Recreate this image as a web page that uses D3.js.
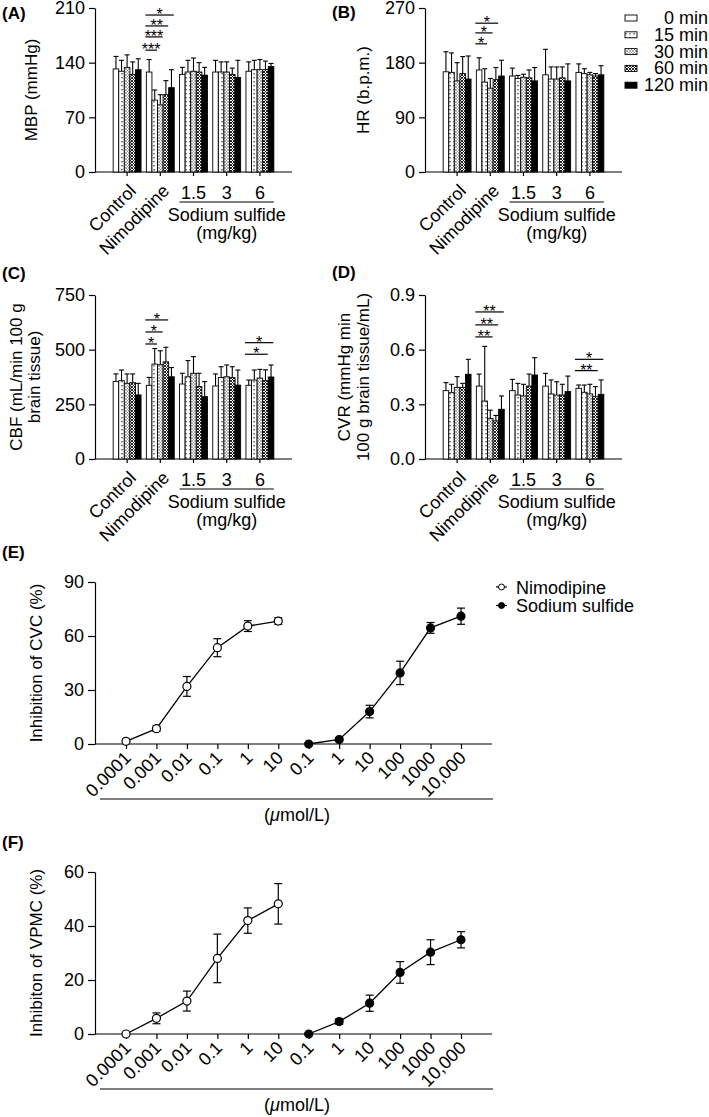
<!DOCTYPE html>
<html><head><meta charset="utf-8">
<script src="https://cdn.jsdelivr.net/npm/d3@7"></script>
<style>
body{margin:0;background:#fff}
svg{display:block}
text{font-family:"Liberation Sans",Arial,Helvetica,sans-serif;fill:#000}
</style>
</head><body>
<svg id="c" width="709" height="1117"></svg>
<script>
// ---------- data ----------
const groups = ["Control", "Nimodipine", "1.5", "3", "6"];
const times = ["0 min", "15 min", "30 min", "60 min", "120 min"];

const mbpMean = [[132,129,134,125,131],[128,92,86,99,108],[125,128,129,128,124],[128,128,128,125,121],[129,131,131,131,135]];
const mbpErr  = [[16,14,16,16,14],[16,13,13,18,23],[9,15,17,12,10],[15,13,13,8,22],[12,12,13,11,4]];
const mbpTicks = [0,70,140,210];
const mbpSig = [{g:1,to:1,label:"***",v:156},{g:1,to:2,label:"***",v:173},{g:1,to:3,label:"**",v:187},{g:1,to:4,label:"*",v:201}];

const hrMean = [[165,164,150,162,153],[168,148,138,152,158],[158,154,156,155,150],[160,153,153,155,150],[164,162,160,158,160]];
const hrErr  = [[33,32,30,28,38],[20,22,16,20,26],[13,5,5,13,22],[42,20,20,18,28],[14,8,4,4,15]];
const hrTicks = [0,90,180,270];
const hrSig = [{g:1,to:1,label:"*",v:211},{g:1,to:2,label:"*",v:229},{g:1,to:3,label:"*",v:245}];

const cbfMean = [[354,358,346,349,293],[337,434,431,444,376],[343,376,392,331,285],[334,373,376,372,338],[337,361,370,358,375]];
const cbfErr  = [[35,49,43,40,53],[36,71,64,67,42],[49,74,76,61,69],[55,49,54,50,69],[24,46,40,50,55]];
const cbfTicks = [0,250,500,750];
const cbfSig = [{g:1,to:1,label:"*",v:526},{g:1,to:2,label:"*",v:581},{g:1,to:3,label:"*",v:636},{g:4,to:3,label:"*",v:479},{g:4,to:4,label:"*",v:532}];

const cvrMean = [[0.375,0.364,0.393,0.393,0.465],[0.40,0.318,0.223,0.209,0.273],[0.375,0.351,0.346,0.40,0.461],[0.40,0.357,0.351,0.351,0.37],[0.388,0.366,0.357,0.342,0.355]];
const cvrErr  = [[0.044,0.046,0.059,0.022,0.082],[0.066,0.30,0.045,0.03,0.073],[0.062,0.064,0.064,0.066,0.095],[0.07,0.077,0.073,0.059,0.085],[0.018,0.04,0.053,0.055,0.079]];
const cvrTicks = [0,0.3,0.6,0.9];
const cvrSig = [{g:1,to:2,label:"**",v:0.670},{g:1,to:3,label:"**",v:0.736},{g:1,to:4,label:"**",v:0.807},{g:4,to:3,label:"**",v:0.485},{g:4,to:4,label:"*",v:0.547}];

const doseLabels = ["0.0001","0.001","0.01","0.1","1","10","0.1","1","10","100","1000","10,000"];
const nimoCVC = [1.5, 8.5, 32, 53.5, 65.5, 68.3];
const nimoCVCerr = [1, 1.5, 5.5, 5, 3, 1.8];
const sodCVC = [0, 2.5, 18, 39.5, 64.5, 71];
const sodCVCerr = [0.5, 1, 3.5, 6.5, 3, 4.5];
const cvcTicks = [0,30,60,90];

const nimoVPMC = [0, 5.8, 12.2, 28, 42, 48.2];
const nimoVPMCerr = [0.3, 2, 3.7, 9, 4.7, 7.5];
const sodVPMC = [0, 4.6, 11.4, 22.8, 30.3, 34.9];
const sodVPMCerr = [0.3, 1, 3, 4, 4.6, 3];
const vpmcTicks = [0,20,40,60];

const lineSeries = ["Nimodipine", "Sodium sulfide"];

// ---------- drawing ----------
const svg = d3.select("#c");
const FS = 18;
const defs = svg.append("defs");
function pat(id, size, draw){
  const p = defs.append("pattern").attr("id",id).attr("patternUnits","userSpaceOnUse")
    .attr("width",size).attr("height",size);
  p.append("rect").attr("width",size).attr("height",size).attr("fill","#fff");
  draw(p);
}
pat("p15",4,p=>p.append("rect").attr("x",1.5).attr("y",1).attr("width",1).attr("height",1.4).attr("fill","#000"));
pat("p30",3,p=>p.append("path").attr("d","M0,0L3,3M3,0L0,3").attr("stroke","#777").attr("stroke-width",0.6));
pat("p60",3,p=>p.append("path").attr("d","M0,0L3,3M3,0L0,3").attr("stroke","#111").attr("stroke-width",0.9));
const fills = ["#fff","url(#p15)","url(#p30)","url(#p60)","#000"];

function styleAxis(g){
  g.selectAll("path,line").attr("stroke","#000").attr("stroke-width",1.2);
  g.selectAll("text").attr("font-size",FS).attr("font-family",'"Liberation Sans",Arial,sans-serif').attr("fill","#000");
}

function barPanel(cfg){
  const g = svg.append("g");
  const y = d3.scaleLinear().domain([0, cfg.ticks[cfg.ticks.length-1]]).range([cfg.bottom, cfg.top]);
  const x = d3.scaleBand().domain(groups).range([cfg.axisX+15.5, cfg.axisX+181.5]).paddingInner(0.16).paddingOuter(0.08);
  const bw = x.bandwidth()/times.length;
  // y axis
  const ya = g.append("g").attr("transform",`translate(${cfg.axisX},0)`)
    .call(d3.axisLeft(y).tickValues(cfg.ticks).tickFormat(cfg.fmt).tickSize(6).tickPadding(4).tickSizeOuter(0));
  styleAxis(ya);
  // x axis
  const xa = g.append("g").attr("transform",`translate(0,${cfg.bottom})`)
    .call(d3.axisBottom(x).tickSize(4).tickFormat(""));
  xa.select(".domain").remove();
  styleAxis(xa);
  g.append("line").attr("x1",cfg.axisX).attr("x2",cfg.axisX+197).attr("y1",cfg.bottom).attr("y2",cfg.bottom)
    .attr("stroke","#000").attr("stroke-width",1.2);
  // bars
  groups.forEach((gr,gi)=>{
    times.forEach((t,ti)=>{
      const x0 = x(gr)+ti*bw, m = cfg.mean[gi][ti], e = cfg.err[gi][ti];
      g.append("line").attr("x1",x0+bw/2).attr("x2",x0+bw/2).attr("y1",y(m)).attr("y2",y(m+e)).attr("stroke","#000").attr("stroke-width",1.1);
      g.append("line").attr("x1",x0+0.3).attr("x2",x0+bw-0.3).attr("y1",y(m+e)).attr("y2",y(m+e)).attr("stroke","#000").attr("stroke-width",1.1);
      g.append("rect").attr("x",x0).attr("y",y(m)).attr("width",bw).attr("height",y(0)-y(m))
        .attr("fill",fills[ti]).attr("stroke","#000").attr("stroke-width",0.9);
    });
  });
  // significance
  cfg.sig.forEach(s=>{
    const x1 = x(groups[s.g])-1, x2 = x(groups[s.g])+(s.to+1)*bw-0.5, yy = y(s.v);
    g.append("line").attr("x1",x1).attr("x2",x2).attr("y1",yy).attr("y2",yy).attr("stroke","#000").attr("stroke-width",1.2);
    g.append("text").attr("x",(x1+x2)/2).attr("y",yy+5).attr("text-anchor","middle").attr("font-size",16).text(s.label);
  });
  // x labels
  [0,1].forEach(i=>{
    const cx = x(groups[i])+x.bandwidth()/2;
    g.append("text").attr("transform",`translate(${cx+10},${cfg.bottom+20}) rotate(-45)`)
      .attr("text-anchor","end").attr("font-size",FS).text(groups[i]);
  });
  [2,3,4].forEach(i=>{
    const cx = x(groups[i])+x.bandwidth()/2;
    g.append("text").attr("x",cx).attr("y",cfg.bottom+27).attr("text-anchor","middle").attr("font-size",FS).text(groups[i]);
  });
  const ux1 = x(groups[2]), ux2 = x(groups[4])+x.bandwidth();
  g.append("line").attr("x1",ux1).attr("x2",ux2).attr("y1",cfg.bottom+30).attr("y2",cfg.bottom+30).attr("stroke","#000").attr("stroke-width",1.2);
  g.append("text").attr("x",(ux1+ux2)/2).attr("y",cfg.bottom+49).attr("text-anchor","middle").attr("font-size",FS).text("Sodium sulfide");
  g.append("text").attr("x",(ux1+ux2)/2).attr("y",cfg.bottom+67).attr("text-anchor","middle").attr("font-size",FS).text("(mg/kg)");
  // y title
  const my = (cfg.top+cfg.bottom)/2;
  cfg.title.forEach((t,i)=>{
    g.append("text").attr("transform",`translate(${cfg.titleX[i]},${my}) rotate(-90)`)
      .attr("text-anchor","middle").attr("font-size",17).text(t);
  });
  g.append("text").attr("x",cfg.labelX).attr("y",cfg.labelY).attr("font-size",17).attr("font-weight","bold").text(cfg.label);
}

barPanel({axisX:95, top:8, bottom:172, ticks:mbpTicks, fmt:d3.format("d"), mean:mbpMean, err:mbpErr, sig:mbpSig,
  title:["MBP (mmHg)"], titleX:[37], label:"(A)", labelX:2, labelY:19});
barPanel({axisX:425, top:8, bottom:172, ticks:hrTicks, fmt:d3.format("d"), mean:hrMean, err:hrErr, sig:hrSig,
  title:["HR (b.p.m.)"], titleX:[369], label:"(B)", labelX:332, labelY:18});
barPanel({axisX:95, top:295, bottom:459, ticks:cbfTicks, fmt:d3.format("d"), mean:cbfMean, err:cbfErr, sig:cbfSig,
  title:["CBF (mL/min 100 g","brain tissue)"], titleX:[22,40], label:"(C)", labelX:2, labelY:279});
barPanel({axisX:425, top:295, bottom:459, ticks:cvrTicks, fmt:d3.format(".1f"), mean:cvrMean, err:cvrErr, sig:cvrSig,
  title:["CVR (mmHg min","100 g brain tissue/mL)"], titleX:[350,369], label:"(D)", labelX:332, labelY:278});

// bar legend
times.forEach((t,i)=>{
  const ly = 18 + i*16.8;
  svg.append("rect").attr("x",625).attr("y",ly-3).attr("width",12).attr("height",6)
    .attr("fill",fills[i]).attr("stroke","#000").attr("stroke-width",0.9);
  svg.append("text").attr("x",708).attr("y",ly+6).attr("text-anchor","end").attr("font-size",FS).text(t);
});

// ---------- line panels ----------
function linePanel(cfg){
  const g = svg.append("g");
  const y = d3.scaleLinear().domain([0, cfg.ticks[cfg.ticks.length-1]]).range([cfg.bottom, cfg.top]);
  const x = d3.scalePoint().domain(d3.range(doseLabels.length)).range([126, 461]);
  const ya = g.append("g").attr("transform",`translate(95,0)`)
    .call(d3.axisLeft(y).tickValues(cfg.ticks).tickFormat(d3.format("d")).tickSize(7).tickPadding(4).tickSizeOuter(0));
  styleAxis(ya);
  const xa = g.append("g").attr("transform",`translate(0,${cfg.bottom})`)
    .call(d3.axisBottom(x).tickSize(5).tickFormat(""));
  xa.select(".domain").remove();
  styleAxis(xa);
  g.append("line").attr("x1",95).attr("x2",492).attr("y1",cfg.bottom).attr("y2",cfg.bottom).attr("stroke","#000").attr("stroke-width",1.2);
  doseLabels.forEach((d,i)=>{
    g.append("text").attr("transform",`translate(${x(i)+6},${cfg.bottom+15}) rotate(-45)`)
      .attr("text-anchor","end").attr("font-size",FS).text(d);
  });
  g.append("line").attr("x1",100).attr("x2",493).attr("y1",cfg.bottom+55).attr("y2",cfg.bottom+55).attr("stroke","#000").attr("stroke-width",1.2);
  g.append("text").attr("x",297).attr("y",cfg.bottom+77).attr("text-anchor","middle").attr("font-size",FS)
    .html('(<tspan font-style="italic">μ</tspan>mol/L)');
  const series = [{m:cfg.nimo, e:cfg.nimoErr, off:0, fill:"#fff"},{m:cfg.sod, e:cfg.sodErr, off:6, fill:"#000"}];
  series.forEach(s=>{
    const pts = s.m.map((v,i)=>({x:x(i+s.off), v, e:s.e[i]}));
    g.append("path").attr("d",d3.line().x(p=>p.x).y(p=>y(p.v))(pts)).attr("fill","none").attr("stroke","#000").attr("stroke-width",1.3);
    pts.forEach(p=>{
      g.append("line").attr("x1",p.x).attr("x2",p.x).attr("y1",y(p.v-p.e)).attr("y2",y(p.v+p.e)).attr("stroke","#000").attr("stroke-width",1.2);
      [p.v-p.e,p.v+p.e].forEach(vv=>g.append("line").attr("x1",p.x-4).attr("x2",p.x+4).attr("y1",y(vv)).attr("y2",y(vv)).attr("stroke","#000").attr("stroke-width",1.2));
      g.append("circle").attr("cx",p.x).attr("cy",y(p.v)).attr("r",4).attr("fill",s.fill).attr("stroke","#000").attr("stroke-width",1.2);
    });
  });
  g.append("text").attr("transform",`translate(${cfg.titleX},${(cfg.top+cfg.bottom)/2}) rotate(-90)`)
    .attr("text-anchor","middle").attr("font-size",17).text(cfg.title);
  g.append("text").attr("x",2).attr("y",cfg.labelY).attr("font-size",17).attr("font-weight","bold").text(cfg.label);
}

linePanel({top:582, bottom:744, ticks:cvcTicks, nimo:nimoCVC, nimoErr:nimoCVCerr, sod:sodCVC, sodErr:sodCVCerr,
  title:"Inhibition of CVC (%)", titleX:42, label:"(E)", labelY:558});
linePanel({top:872, bottom:1034, ticks:vpmcTicks, nimo:nimoVPMC, nimoErr:nimoVPMCerr, sod:sodVPMC, sodErr:sodVPMCerr,
  title:"Inhibiton of VPMC (%)", titleX:42, label:"(F)", labelY:848});

// line legend
lineSeries.forEach((s,i)=>{
  const ly = 587 + i*18.5;
  svg.append("line").attr("x1",496).attr("x2",507).attr("y1",ly).attr("y2",ly).attr("stroke","#000").attr("stroke-width",1.2);
  svg.append("circle").attr("cx",501.5).attr("cy",ly).attr("r",3).attr("fill",i===0?"#fff":"#000").attr("stroke","#000").attr("stroke-width",1);
  svg.append("text").attr("x",516).attr("y",ly+6.5).attr("font-size",FS).text(s);
});
</script>
</body></html>
